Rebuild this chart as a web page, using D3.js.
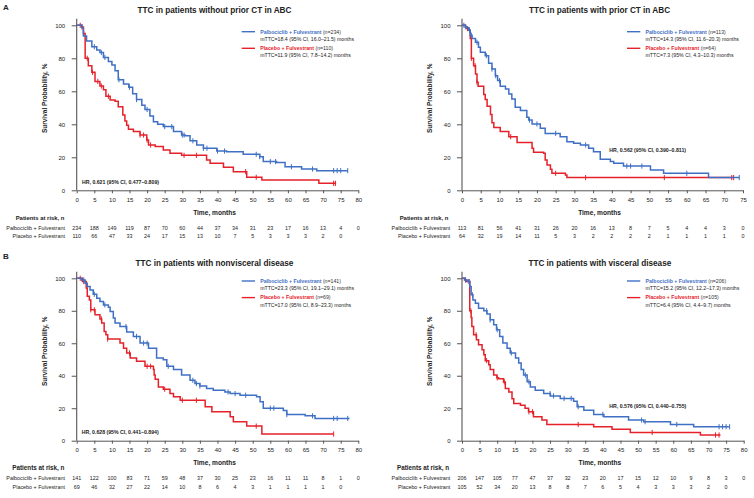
<!DOCTYPE html>
<html><head><meta charset="utf-8">
<script src="https://cdn.jsdelivr.net/npm/d3@7"></script>
<style>
body{margin:0;background:#fff}
svg{display:block}
text{font-family:"Liberation Sans",Arial,Helvetica,sans-serif;fill:#222}
</style>
</head><body>
<svg id="chart" width="754" height="498"></svg>
<script>
// ---------------- DATA ----------------
const xTicks80 = [0,5,10,15,20,25,30,35,40,45,50,55,60,65,70,75,80];
const xTicks75 = [0,5,10,15,20,25,30,35,40,45,50,55,60,65,70,75];
const yTicks = [0,20,40,60,80,100];
const groupNames = ["Palbociclib + Fulvestrant","Placebo + Fulvestrant"];

const titleA1 = "TTC in patients without prior CT in ABC";
const titleA2 = "TTC in patients with prior CT in ABC";
const titleB1 = "TTC in patients with nonvisceral disease";
const titleB2 = "TTC in patients with visceral disease";

const nA1 = ["(n=234)","(n=110)"];
const nA2 = ["(n=113)","(n=64)"];
const nB1 = ["(n=141)","(n=69)"];
const nB2 = ["(n=206)","(n=105)"];

const mttcA1 = ["mTTC=18.4 (95% CI, 16.0\u201321.5) months","mTTC=11.9 (95% CI, 7.8\u201314.2) months"];
const mttcA2 = ["mTTC=14.3 (95% CI, 11.6\u201320.3) months","mTTC=7.3 (95% CI, 4.3\u201310.3) months"];
const mttcB1 = ["mTTC=23.3 (95% CI, 19.1\u201329.1) months","mTTC=17.0 (95% CI, 8.9\u201323.3) months"];
const mttcB2 = ["mTTC=15.2 (95% CI, 12.2\u201317.3) months","mTTC=6.4 (95% CI, 4.4\u20139.7) months"];

const hrA1 = "HR, 0.621 (95% CI, 0.477\u20130.809)";
const hrA2 = "HR, 0.562 (95% CI, 0.390\u20130.811)";
const hrB1 = "HR, 0.628 (95% CI, 0.441\u20130.894)";
const hrB2 = "HR, 0.576 (95% CI, 0.440\u20130.755)";

// KM step curves: [month, survival %]
const palboA1 = [[0,100],[1.5,98.5],[1.9,93.5],[2.8,90.5],[4.3,87],[5.7,85],[6.6,83.5],[7.6,80.5],[9,78],[10,76],[10.9,72.5],[11.8,67],[13.3,64.5],[14.8,62.5],[15.9,58.5],[17,55],[18.5,51.5],[19.4,49],[20.8,45],[21.8,41.5],[23,40],[24.6,38.6],[27.5,35.6],[29.8,33.5],[30.8,33],[32.2,30],[34.1,27.5],[36,25.5],[39.8,23.8],[42.6,23.4],[47.3,21.8],[52,20.4],[53,17.4],[56.8,16.8],[59.2,14.3],[63.9,12.9],[68.2,11.9],[77,11.9]];
const placeboA1 = [[0,100],[1.4,99],[1.9,95],[2.4,80],[3.3,75.5],[4.3,71.5],[5.2,66],[6.6,63.2],[7.6,61],[8.3,57],[9.5,54.7],[10.9,54],[11.8,50.7],[13.1,45.7],[13.7,42],[14.2,39.5],[14.7,37],[16.1,35.6],[18,33.5],[19.9,30.5],[20.4,27.5],[22.3,26.5],[24.6,24.4],[26.5,22.4],[29.8,21.2],[36.9,18.4],[37.9,16.4],[41.7,14],[44.5,11.3],[48.3,7.9],[52.6,6.3],[68.8,4.2],[73.7,4.2]];
const palboA2 = [[0,100],[0.9,99],[1.3,98.5],[1.8,97],[2.2,94],[2.7,92],[3.6,89.7],[4.4,86.7],[4.9,83.6],[6.2,81.6],[7.1,77],[8,73.5],[8.9,69.5],[9.5,66.5],[10.2,63],[11.6,61.4],[12.5,58.4],[13.3,55.4],[14.2,50.3],[15.6,48.3],[17.3,44.3],[17.8,42.6],[18.7,40.2],[20.9,37.6],[22.2,34.5],[26.2,32.5],[28,29.5],[29.8,28.5],[31.6,27.5],[33.8,25.5],[35.1,23.4],[36.9,18.8],[39.6,17.4],[40.5,16.4],[43.1,14.7],[50.3,12.3],[53.8,10.3],[65.8,7.7],[74,7.7]];
const placeboA2 = [[0,100],[0.9,99],[1.3,98],[1.8,97],[2.2,92],[2.5,80],[3.1,75.5],[3.6,70.5],[4,65.5],[4.3,63],[5.8,58],[6.2,55],[6.7,51],[7.6,46],[8,41],[8.5,38],[10.2,35.6],[12.5,32.5],[14.7,28.9],[18.7,25.5],[19.1,23],[21.8,22.4],[22.2,18.4],[22.7,15.4],[23.6,12.7],[24,10.3],[27.6,9.3],[28,7.7],[72.5,7.7]];
const palboB1 = [[0,100],[1.4,99],[2.4,97],[3,95],[3.8,92.8],[4.7,90.2],[5.7,87.7],[6.6,85.7],[7.6,83.6],[9,82.2],[9.5,79.6],[10.4,75.5],[10.9,72.4],[12.3,70.3],[14.2,67],[16.1,64.2],[18,60.1],[20.4,57],[22.7,51],[24.6,49.9],[25.6,45.8],[27.5,43.8],[29.8,40.4],[32.2,37.2],[33.6,35.2],[35,33.7],[36.9,32.1],[38.8,31.1],[42.1,30],[43.6,29],[46.4,28],[51.1,27],[52.1,24],[53,20],[58.7,18.6],[59.7,16.1],[64.9,15.3],[67.7,13.7],[77.5,13.7]];
const placeboB1 = [[0,100],[1.6,98],[2.7,94],[3,89],[3.6,86.7],[4,80.6],[5.2,77.5],[6.6,75],[7.1,72.4],[7.8,67.3],[8.3,65.2],[8.8,62.6],[12.3,60.1],[13.3,57],[14.2,54],[15.2,50.9],[17,48.9],[19.4,45.8],[21.8,43.8],[22,40.4],[22.3,37.8],[23.2,33.1],[24.6,31.7],[26.5,29],[27.5,27],[29.4,24.9],[36.5,20.9],[38.4,17.8],[43.6,14.7],[44.5,11.7],[48.3,9],[52.6,4.1],[72.9,4.1]];
const palboB2 = [[0,100],[0.9,99],[1.6,98],[2.2,95],[2.6,89.8],[3.1,86.7],[3.8,84.7],[4.7,81.6],[6.2,80],[7.1,78],[8,74.4],[9,71.4],[9.8,68.3],[10.7,64.2],[11.6,60.1],[12.8,57],[13.7,54],[15.2,50.9],[16.1,47.9],[16.8,43.8],[17.5,40.4],[18.5,36.3],[19.4,33.1],[20.8,31.1],[23.2,29],[25.1,27.6],[27.9,26],[31.7,24.3],[32.7,20.9],[34.6,18.8],[37.4,16.2],[40.3,14.7],[47.3,12.7],[51.6,11.7],[59.2,10],[65.8,8.6],[75.8,8.6]];
const placeboB2 = [[0,100],[0.7,99],[1.2,98],[2.2,80],[2.6,75.9],[2.8,70.3],[3.3,65.2],[4.1,62.2],[4.7,59.1],[5.7,56],[6.2,53],[6.6,49.3],[7.6,46.8],[8,43.8],[9,40.5],[9.9,38.7],[10.4,38.2],[11.8,36.2],[12.3,32.1],[13.3,30],[14.2,25.9],[14.7,22.9],[16.6,21.9],[17.9,20],[18.9,17.8],[20.3,14.7],[22.7,12.7],[24.1,10],[37.4,8.6],[42.6,7],[47.8,5.1],[67.7,3.5],[73.4,3.5]];

// censoring times (months)
const censPalboA1 = [5,7,8,12,15,17,20,25,27,30,30.5,33,36,37,40,42,51,52,55,56.5,61,67,73,74,75,77];
const censPlaceboA1 = [1,1.5,2,3,4.5,6,7,9,18,19,20,21,30.5,34,48,51,73,73.5];
const censPalboA2 = [0.5,1,2,2.5,4,6.5,8,9,10,18,20,25,33,44,45,48,60,74];
const censPlaceboA2 = [1.5,2,2.5,3.5,4,13,25,33,54,72,72.5];
const censPalboB1 = [2,5,8,14,17,19,20,26,33,34,35,43,45,48,55,56,59.7,67,73,74,77];
const censPlaceboB1 = [1,2,4,5,7,8.8,15,20,21,25,30,34,51,73];
const censPalboB2 = [1,2,3,7,8,10,14,18,19,25,26,29,31,33,40,51,52,61,73,74,75,76];
const censPlaceboB2 = [1,2,2.5,4,7,10,12,19,20,33,54,72,73];

// patients at risk
const riskPalboA1 = [234,188,149,119,87,70,60,44,37,34,31,23,17,16,13,4,0];
const riskPlaceboA1 = [110,66,47,33,24,17,15,13,10,7,5,3,3,3,2,0];
const riskPalboA2 = [113,81,56,41,31,26,20,16,13,8,7,5,4,4,3,0];
const riskPlaceboA2 = [64,32,19,14,11,5,3,2,2,2,2,1,1,1,1,0];
const riskPalboB1 = [141,122,100,83,71,59,48,37,30,25,23,16,11,11,8,1,0];
const riskPlaceboB1 = [69,46,32,27,22,14,10,8,6,4,3,1,1,1,1,0];
const riskPalboB2 = [206,147,105,77,47,37,32,23,20,17,15,12,10,9,8,3,0];
const riskPlaceboB2 = [105,52,34,20,13,8,8,7,6,5,4,3,3,3,2,0];

// ---------------- LAYOUT ----------------
const BLUE = "#3f70c4", RED = "#e52129", AXIS = "#555";
const panels = [
  {letter:"A", ly:7,   title:titleA1, left:76.7, right:358.3, top:25.3,  bottom:190.3, xMax:80, xTicks:xTicks80,
   curves:[palboA1,placeboA1], cens:[censPalboA1,censPlaceboA1], risk:[riskPalboA1,riskPlaceboA1], n:nA1, mttc:mttcA1, hr:hrA1,
   legY:31.7, hrX:82, hrY:181.7, parFs:5.9, parX:15.7},
  {letter:null, title:titleA2, left:462, right:743, top:25.3, bottom:190.3, xMax:75, xTicks:xTicks75,
   curves:[palboA2,placeboA2], cens:[censPalboA2,censPlaceboA2], risk:[riskPalboA2,riskPlaceboA2], n:nA2, mttc:mttcA2, hr:hrA2,
   legY:31.7, hrX:609.3, hrY:150.3, parFs:5.9, parX:399.7},
  {letter:"B", ly:256, title:titleB1, left:76.7, right:358.3, top:278.3, bottom:440.7, xMax:80, xTicks:xTicks80,
   curves:[palboB1,placeboB1], cens:[censPalboB1,censPlaceboB1], risk:[riskPalboB1,riskPlaceboB1], n:nB1, mttc:mttcB1, hr:hrB1,
   legY:281, hrX:81.7, hrY:432, parFs:6.3, parX:12.3},
  {letter:null, title:titleB2, left:462, right:743.7, top:278.3, bottom:440.7, xMax:80, xTicks:xTicks80,
   curves:[palboB2,placeboB2], cens:[censPalboB2,censPlaceboB2], risk:[riskPalboB2,riskPlaceboB2], n:nB2, mttc:mttcB2, hr:hrB2,
   legY:281, hrX:609.3, hrY:406, parFs:6.3, parX:397}
];

const svg = d3.select("#chart");
const colors = [BLUE, RED];

function survAt(curve, t){
  let v = curve[0][1];
  for (const [tt, vv] of curve){ if (tt <= t) v = vv; else break; }
  return v;
}

panels.forEach(p => {
  const g = svg.append("g");
  const x = d3.scaleLinear().domain([0, p.xMax]).range([p.left, p.right]);
  const y = d3.scaleLinear().domain([0, 100]).range([p.bottom, p.top]);

  if (p.letter) g.append("text").attr("x", 3).attr("y", p.ly).attr("dy","0.35em")
      .attr("font-size", 8).attr("font-weight","bold").text(p.letter);

  g.append("text").attr("x", (p.left + p.right) / 2 - 3).attr("y", p.top - 15.5).attr("dy","0.35em")
    .attr("text-anchor","middle").attr("font-size", 8.2).attr("font-weight","bold").text(p.title);

  // x axis
  const xa = g.append("g").attr("transform", `translate(0,${p.bottom})`)
    .call(d3.axisBottom(x).tickValues(p.xTicks).tickSize(3).tickSizeOuter(0).tickPadding(4.5));
  // y axis
  const ya = g.append("g").attr("transform", `translate(${p.left},0)`)
    .call(d3.axisLeft(y).tickValues(yTicks).tickSize(5).tickPadding(6.5));
  ya.select(".domain").remove();
  g.append("line").attr("x1", p.left).attr("x2", p.left).attr("y1", y(0)).attr("y2", y(104))
    .attr("stroke", AXIS).attr("stroke-width", 1.1);
  [xa, ya].forEach(a => {
    a.selectAll("path,line").attr("stroke", AXIS).attr("stroke-width", 1);
    a.selectAll("text").attr("font-size", 6).attr("fill", "#333").attr("font-family", null);
  });

  // axis titles
  g.append("text").attr("x", (p.left + p.right) / 2 - 3).attr("y", p.bottom + 22.3).attr("dy","0.35em")
    .attr("text-anchor","middle").attr("font-size", 6.6).attr("font-weight","bold").text("Time, months");
  g.append("text").attr("transform", `translate(${p.left - 31.8},${p.top + 73}) rotate(-90)`).attr("dy","0.35em")
    .attr("text-anchor","middle").attr("font-size", 6.5).attr("font-weight","bold").text("Survival Probability, %");

  // curves
  const line = d3.line().x(d => x(d[0])).y(d => y(d[1])).curve(d3.curveStepAfter);
  [1, 0].forEach(i => {
    g.append("path").datum(p.curves[i]).attr("d", line).attr("fill","none")
      .attr("stroke", colors[i]).attr("stroke-width", 1.5);
    g.selectAll(null).data(p.cens[i]).enter().append("line")
      .attr("x1", d => x(d)).attr("x2", d => x(d))
      .attr("y1", d => y(survAt(p.curves[i], d)) - 2.6)
      .attr("y2", d => y(survAt(p.curves[i], d)) + 2.6)
      .attr("stroke", colors[i]).attr("stroke-width", 1);
  });

  // legend
  const lx = p.left + 165;
  [0, 1].forEach(i => {
    const yy = p.legY + i * 16.6;
    g.append("line").attr("x1", lx).attr("x2", lx + 13.3).attr("y1", yy).attr("y2", yy)
      .attr("stroke", colors[i]).attr("stroke-width", 1.4);
    const t = g.append("text").attr("x", lx + 18.5).attr("y", yy).attr("dy","0.35em").attr("font-size", 5.2);
    t.append("tspan").attr("font-weight","bold").attr("fill", colors[i]).text(groupNames[i]);
    t.append("tspan").attr("fill","#333").text(" " + p.n[i]);
    g.append("text").attr("x", lx + 18.5).attr("y", yy + 7.3).attr("dy","0.35em").attr("font-size", 5.2)
      .attr("fill","#333").text(p.mttc[i]);
  });

  // HR
  g.append("text").attr("x", p.hrX).attr("y", p.hrY).attr("dy","0.35em").attr("font-size", 5.2)
    .attr("font-weight","bold").text(p.hr);

  // risk table
  g.append("text").attr("x", p.parX).attr("y", p.bottom + 27.3).attr("dy","0.35em")
    .attr("font-size", p.parFs).attr("font-weight","bold").text("Patients at risk, n");
  [0, 1].forEach(i => {
    const ry = p.bottom + 37.5 + i * 8.6;
    g.append("text").attr("x", p.left - 11.8).attr("y", ry).attr("dy","0.35em")
      .attr("text-anchor","end").attr("font-size", 5.4).attr("fill","#333").text(groupNames[i]);
    g.selectAll(null).data(p.risk[i]).enter().append("text")
      .attr("x", (d, k) => x(p.xTicks[k])).attr("y", ry).attr("dy","0.35em")
      .attr("text-anchor","middle").attr("font-size", 5.4).attr("fill","#333").text(d => d);
  });
});
</script>
</body></html>
